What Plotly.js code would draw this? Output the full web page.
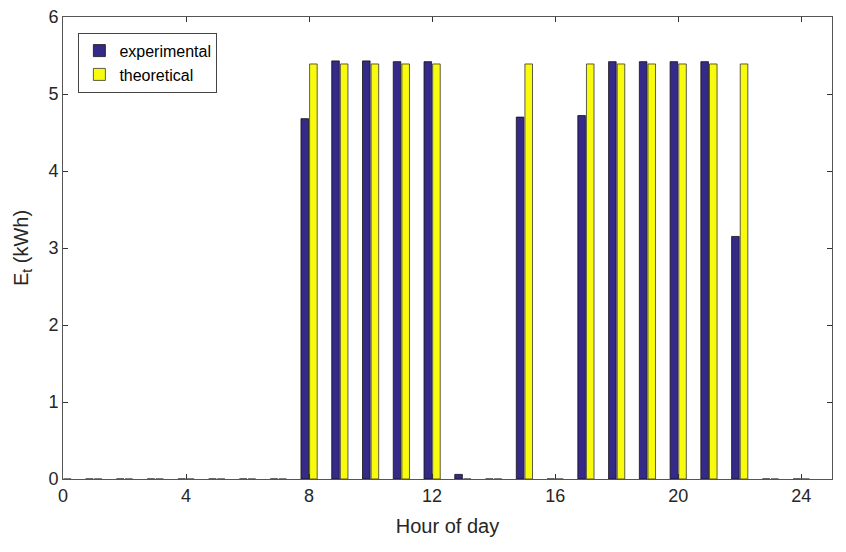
<!DOCTYPE html>
<html>
<head>
<meta charset="utf-8">
<script src="https://cdn.plot.ly/plotly-3.0.1.min.js"></script>
<style>
  html, body { margin: 0; padding: 0; background: #fff; }
  #chart { width: 846px; height: 552px; }
</style>
</head>
<body>
<div id="chart"></div>
<script>
  // hours 0..24, zero where nothing was measured
  const hours = [0, 1, 2, 3, 4, 5, 6, 7, 8, 9, 10, 11, 12, 13, 14, 15, 16, 17, 18, 19, 20, 21, 22, 23, 24];
  const experimental = [0, 0, 0, 0, 0, 0, 0, 0, 4.68, 5.43, 5.43, 5.42, 5.42, 0.06, 0, 4.70, 0, 4.72, 5.42, 5.42, 5.42, 5.42, 3.15, 0, 0];
  const theoretical = [0, 0, 0, 0, 0, 0, 0, 0, 5.39, 5.39, 5.39, 5.39, 5.39, 0, 0, 5.39, 0, 5.39, 5.39, 5.39, 5.39, 5.39, 5.39, 0, 0];
  const xTicks = [0, 4, 8, 12, 16, 20, 24];
  const yTicks = [0, 1, 2, 3, 4, 5, 6];

  const font = 'Liberation Sans, Arial, sans-serif';

  const traces = [
    {
      type: 'bar',
      name: 'experimental',
      x: hours,
      y: experimental,
      marker: { color: '#352a87', line: { color: '#111111', width: 0.8 } },
    },
    {
      type: 'bar',
      name: 'theoretical',
      x: hours,
      y: theoretical,
      marker: { color: '#f9fb0e', line: { color: '#333333', width: 0.8 } },
    },
  ];

  const axisCommon = {
    showgrid: false,
    zeroline: false,
    showline: true,
    linecolor: '#555555',
    linewidth: 1,
    mirror: 'ticks',
    ticks: 'inside',
    ticklen: 5,
    tickcolor: '#333333',
    tickfont: { family: font, size: 18, color: '#262626' },
  };

  const layout = {
    width: 846,
    height: 552,
    paper_bgcolor: '#ffffff',
    plot_bgcolor: '#ffffff',
    margin: { l: 63, r: 14, t: 17, b: 73 },
    barmode: 'group',
    bargap: 0.44,
    bargroupgap: 0.12,
    xaxis: {
      ...axisCommon,
      range: [0, 25],
      tickvals: xTicks,
      title: { text: 'Hour of day', standoff: 14, font: { family: font, size: 20, color: '#262626' } },
    },
    yaxis: {
      ...axisCommon,
      range: [0, 6],
      tickvals: yTicks,
      title: { text: 'E<sub>t</sub> (kWh)', standoff: 14, font: { family: font, size: 20, color: '#262626' } },
    },
    showlegend: true,
    legend: {
      x: 0.02,
      y: 0.966,
      xanchor: 'left',
      yanchor: 'top',
      bgcolor: '#ffffff',
      bordercolor: '#444444',
      borderwidth: 1,
      font: { family: font, size: 16, color: '#000000' },
      tracegroupgap: 0,
      itemwidth: 30,
    },
  };

  Plotly.newPlot('chart', traces, layout, { displayModeBar: false, staticPlot: true });
</script>
</body>
</html>
